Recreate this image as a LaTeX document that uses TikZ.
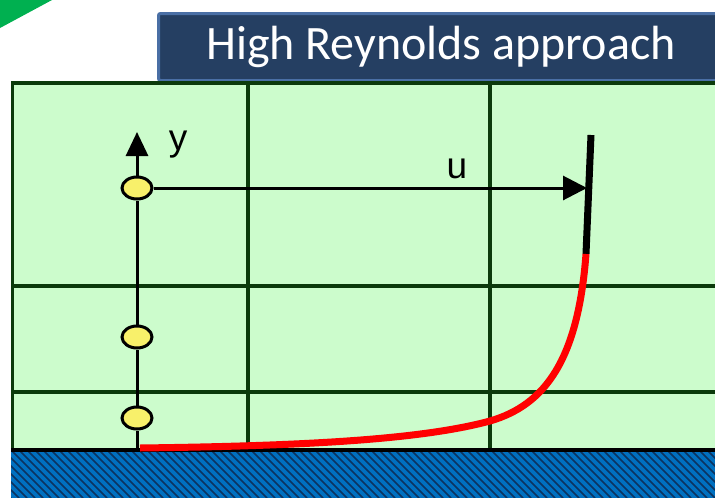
\documentclass[tikz,border=0pt]{standalone}
\usepackage{fontspec}
\setmainfont{Liberation Sans}
\newfontfamily\titlefont{Carlito}
\usetikzlibrary{arrows.meta,shapes.geometric}
\definecolor{panelgreen}{HTML}{CCFCCC}
\definecolor{gridgreen}{HTML}{0B3A0B}
\definecolor{titlefill}{HTML}{253F62}
\definecolor{titlerim}{HTML}{4A6FA5}
\definecolor{groundblue}{HTML}{0070C0}
\definecolor{hatchdark}{HTML}{0C3360}
\definecolor{cornergreen}{HTML}{00B050}
\definecolor{nodeyellow}{HTML}{F8F06A}
\tikzset{
  gridline/.style={draw=gridgreen, line width=3.5},
  probe/.style={ellipse, draw=black, fill=nodeyellow, line width=3, minimum width=30, minimum height=22, inner sep=0},
  axisline/.style={draw=black, line width=3},
  lbl/.style={font=\fontsize{37}{40}\selectfont, inner sep=0, anchor=base},
}
\begin{document}
\begin{tikzpicture}[x=1pt,y=-1pt]
\useasboundingbox (0,0) rectangle (715,498);
% corner triangle
\fill[cornergreen] (0,0) -- (52,0) -- (0,28) -- cycle;
% title
\node[draw=titlerim, fill=titlefill, line width=3, rounded corners=2, minimum width=580, minimum height=67, inner sep=0, anchor=north west] (title) at (157,12) {};
\node[text=white, inner sep=0, font=\titlefont\fontsize{48}{52}\selectfont] (titletext) at (441,47) {High Reynolds approach};
% panel
\fill[panelgreen] (11,82) rectangle (720,450);
\draw[gridline] (248,82) -- (248,450);
\draw[gridline] (490,82) -- (490,450);
\draw[gridline] (11,286) -- (720,286);
\draw[gridline] (11,392) -- (720,392);
\draw[draw=gridgreen, line width=3.5] (720,83) -- (12.5,83) -- (12.5,450);
% ground
\fill[groundblue] (11,451) rectangle (715,498);
\begin{scope}
\clip (11,451) rectangle (715,498);
\foreach \i in {-60,-52,...,720} {
  \draw[hatchdark, line width=1.6] (\i,451) -- (\i+47,498);
}
\end{scope}
\draw[black, line width=4] (11,449.5) -- (715,449.5);
% probes and axis
\coordinate (base) at (137,449);
\coordinate (ytip) at (137,132);
\node[probe] (p1) at (137,188) {};
\node[probe] (p2) at (137,337) {};
\node[probe] (p3) at (137,418) {};
\draw[axisline] (base) -- (p3) -- (p2) -- (p1);
\draw[axisline, -{Triangle[width=22,length=24]}] (p1) -- (ytip);
\node[lbl] (ylab) at (178,150) {y};
% velocity profile
\coordinate (utip) at (587,188);
\coordinate (top) at (591,135);
\coordinate (join) at (586,254);
\draw[axisline, -{Triangle[width=24,length=24]}] (p1) -- (utip);
\node[lbl] (ulab) at (457,178) {u};
\draw[black, line width=7] (join) -- (top);
\draw[red, line width=7] (140,448) .. controls (300,446) and (420,440) .. (490,421) .. controls (545,405) and (578,360) .. (join);
\end{tikzpicture}
\end{document}
